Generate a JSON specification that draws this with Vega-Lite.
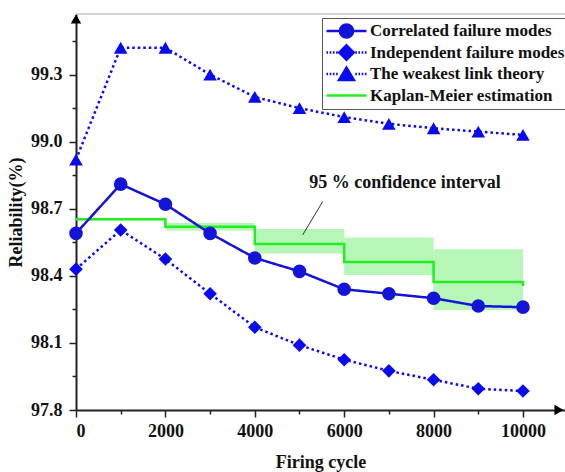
{
  "$schema": "https://vega.github.io/schema/vega-lite/v6.json",
  "width": 489,
  "height": 396,
  "autosize": {"type": "none"},
  "padding": {"left": 76, "top": 14, "right": 0, "bottom": 62},
  "background": "white",
  "config": {
    "view": {"stroke": null},
    "font": "Liberation Serif"
  },
  "datasets": {
    "models": [
      {"series": "Correlated failure modes", "cycle": 0, "r": 98.59},
      {"series": "Correlated failure modes", "cycle": 1000, "r": 98.81},
      {"series": "Correlated failure modes", "cycle": 2000, "r": 98.72},
      {"series": "Correlated failure modes", "cycle": 3000, "r": 98.59},
      {"series": "Correlated failure modes", "cycle": 4000, "r": 98.48},
      {"series": "Correlated failure modes", "cycle": 5000, "r": 98.42},
      {"series": "Correlated failure modes", "cycle": 6000, "r": 98.34},
      {"series": "Correlated failure modes", "cycle": 7000, "r": 98.32},
      {"series": "Correlated failure modes", "cycle": 8000, "r": 98.3},
      {"series": "Correlated failure modes", "cycle": 9000, "r": 98.265},
      {"series": "Correlated failure modes", "cycle": 10000, "r": 98.26},
      {"series": "Independent failure modes", "cycle": 0, "r": 98.43},
      {"series": "Independent failure modes", "cycle": 1000, "r": 98.605},
      {"series": "Independent failure modes", "cycle": 2000, "r": 98.475},
      {"series": "Independent failure modes", "cycle": 3000, "r": 98.32},
      {"series": "Independent failure modes", "cycle": 4000, "r": 98.17},
      {"series": "Independent failure modes", "cycle": 5000, "r": 98.09},
      {"series": "Independent failure modes", "cycle": 6000, "r": 98.025},
      {"series": "Independent failure modes", "cycle": 7000, "r": 97.975},
      {"series": "Independent failure modes", "cycle": 8000, "r": 97.935},
      {"series": "Independent failure modes", "cycle": 9000, "r": 97.895},
      {"series": "Independent failure modes", "cycle": 10000, "r": 97.885},
      {"series": "The weakest link theory", "cycle": 0, "r": 98.92},
      {"series": "The weakest link theory", "cycle": 1000, "r": 99.42},
      {"series": "The weakest link theory", "cycle": 2000, "r": 99.42},
      {"series": "The weakest link theory", "cycle": 3000, "r": 99.3},
      {"series": "The weakest link theory", "cycle": 4000, "r": 99.2},
      {"series": "The weakest link theory", "cycle": 5000, "r": 99.15},
      {"series": "The weakest link theory", "cycle": 6000, "r": 99.11},
      {"series": "The weakest link theory", "cycle": 7000, "r": 99.08},
      {"series": "The weakest link theory", "cycle": 8000, "r": 99.06},
      {"series": "The weakest link theory", "cycle": 9000, "r": 99.045},
      {"series": "The weakest link theory", "cycle": 10000, "r": 99.03}
    ],
    "km": [
      {"series": "Kaplan-Meier estimation", "cycle": 0, "r": 98.653},
      {"series": "Kaplan-Meier estimation", "cycle": 2000, "r": 98.62},
      {"series": "Kaplan-Meier estimation", "cycle": 4000, "r": 98.542},
      {"series": "Kaplan-Meier estimation", "cycle": 6000, "r": 98.462},
      {"series": "Kaplan-Meier estimation", "cycle": 8000, "r": 98.372},
      {"series": "Kaplan-Meier estimation", "cycle": 10000, "r": 98.355}
    ],
    "band": [
      {"cycle": 0, "cycle2": 2000, "r": 98.647, "hi": 98.658},
      {"cycle": 2000, "cycle2": 4000, "r": 98.603, "hi": 98.636},
      {"cycle": 4000, "cycle2": 6000, "r": 98.5, "hi": 98.61},
      {"cycle": 6000, "cycle2": 8000, "r": 98.404, "hi": 98.572},
      {"cycle": 8000, "cycle2": 10000, "r": 98.247, "hi": 98.519}
    ]
  },
  "encoding": {
    "x": {
      "field": "cycle",
      "type": "quantitative",
      "scale": {"domain": [0, 10940], "nice": false, "zero": false},
      "axis": {
        "values": [0, 1000, 2000, 3000, 4000, 5000, 6000, 7000, 8000, 9000, 10000],
        "labelExpr": "datum.value % 2000 === 0 ? format(datum.value, 'd') : ''",
        "tickSize": {"condition": {"test": "datum.value % 2000 !== 0", "value": 4}, "value": 7},
        "grid": false,
        "domainColor": "#222222",
        "domainWidth": 2,
        "tickColor": "#222222",
        "tickWidth": 1.5,
        "labelFont": "Liberation Serif",
        "labelFontWeight": "bold",
        "labelFontSize": 18,
        "labelColor": "#111111",
        "labelPadding": 5,
        "title": "Firing cycle",
        "titleFont": "Liberation Serif",
        "titleFontWeight": "bold",
        "titleFontSize": 18,
        "titleColor": "#111111",
        "titlePadding": 13
      }
    },
    "y": {
      "field": "r",
      "type": "quantitative",
      "scale": {"domain": [97.8, 99.571], "nice": false, "zero": false},
      "axis": {
        "values": [97.8, 97.95, 98.1, 98.25, 98.4, 98.55, 98.7, 98.85, 99.0, 99.15, 99.3, 99.45],
        "labelExpr": "round(datum.value * 100) % 30 === 0 ? format(datum.value, '.1f') : ''",
        "tickSize": {"condition": {"test": "round(datum.value * 100) % 30 !== 0", "value": 4}, "value": 7},
        "grid": false,
        "domainColor": "#222222",
        "domainWidth": 2,
        "tickColor": "#222222",
        "tickWidth": 1.5,
        "labelFont": "Liberation Serif",
        "labelFontWeight": "bold",
        "labelFontSize": 18,
        "labelColor": "#111111",
        "labelPadding": 7,
        "title": "Reliability(%)",
        "titleFont": "Liberation Serif",
        "titleFontWeight": "bold",
        "titleFontSize": 18,
        "titleColor": "#111111",
        "titlePadding": 5
      }
    }
  },
  "layer": [
    {
      "data": {"values": [{"cycle": 0, "cycle2": 10940, "r": 99.571}]},
      "mark": {"type": "rule", "color": "#c8c8c8", "strokeWidth": 1.5},
      "encoding": {
        "x2": {"field": "cycle2"}
      }
    },
    {
      "data": {"name": "band"},
      "mark": {"type": "rect", "color": "#b2f5b2", "opacity": 0.95},
      "encoding": {
        "x2": {"field": "cycle2"},
        "y2": {"field": "hi"}
      }
    },
    {
      "data": {"name": "km"},
      "mark": {"type": "line", "interpolate": "step-after", "strokeWidth": 2.5},
      "encoding": {
        "color": {
          "field": "series",
          "type": "nominal",
          "scale": {
            "domain": ["Correlated failure modes", "Independent failure modes", "The weakest link theory", "Kaplan-Meier estimation"],
            "range": ["#1414d8", "#0a0aee", "#0a0aee", "#22ee22"]
          },
          "legend": {
            "title": null,
            "orient": "none",
            "legendX": 246,
            "legendY": 4,
            "direction": "vertical",
            "padding": 3,
            "strokeColor": "#555555",
            "fillColor": "white",
            "labelFont": "Liberation Serif",
            "labelFontWeight": "bold",
            "labelFontSize": 17,
            "labelColor": "#111111",
            "labelLimit": 300,
            "labelOffset": 2,
            "symbolSize": 1600,
            "clipHeight": 20,
            "rowPadding": 1.5,
            "encode": {
              "symbols": {
                "update": {
                  "shape": {"signal": "datum.value === 'Correlated failure modes' ? 'M-1,0H1M0.33,0A0.33,0.33,0,1,1,-0.33,0A0.33,0.33,0,1,1,0.33,0Z' : datum.value === 'Independent failure modes' ? 'M-1,0H-0.92M-0.84,0H-0.76M-0.68,0H-0.6M-0.52,0H-0.44M0.44,0H0.52M0.6,0H0.68M0.76,0H0.84M0.92,0H1M0,-0.36L0.36,0L0,0.36L-0.36,0Z' : datum.value === 'The weakest link theory' ? 'M-1,0H-0.92M-0.84,0H-0.76M-0.68,0H-0.6M-0.52,0H-0.44M0.44,0H0.52M0.6,0H0.68M0.76,0H0.84M0.92,0H1M0,-0.32L0.37,0.3L-0.37,0.3Z' : 'M-1,0H1'"},
                  "fill": {"signal": "datum.value === 'Kaplan-Meier estimation' ? 'transparent' : scale('color', datum.value)"},
                  "strokeWidth": {"value": 2.5},
                  "strokeDash": {"value": []},
                  "opacity": {"value": 1}
                }
              }
            }
          }
        }
      }
    },
    {
      "data": {"name": "models"},
      "mark": {"type": "line", "strokeWidth": 2.5},
      "encoding": {
        "color": {"field": "series", "type": "nominal"},
        "strokeDash": {
          "field": "series",
          "type": "nominal",
          "scale": {
            "domain": ["Correlated failure modes", "Independent failure modes", "The weakest link theory"],
            "range": [[1, 0], [2.5, 3], [2.5, 3]]
          },
          "legend": null
        }
      }
    },
    {
      "data": {"name": "models"},
      "mark": {"type": "point", "filled": true, "opacity": 1, "size": 185},
      "encoding": {
        "fill": {
          "field": "series",
          "type": "nominal",
          "scale": {
            "domain": ["Correlated failure modes", "Independent failure modes", "The weakest link theory"],
            "range": ["#1414d8", "#0a0aee", "#0a0aee"]
          },
          "legend": null
        },
        "shape": {
          "field": "series",
          "type": "nominal",
          "scale": {
            "domain": ["Correlated failure modes", "Independent failure modes", "The weakest link theory"],
            "range": ["circle", "diamond", "triangle-up"]
          },
          "legend": null
        }
      }
    },
    {
      "data": {"values": [{"cycle": 5519, "r": 98.732, "cycle2": 5072, "r2": 98.583}]},
      "mark": {"type": "rule", "color": "#333333", "strokeWidth": 1},
      "encoding": {
        "x2": {"field": "cycle2"},
        "y2": {"field": "r2"}
      }
    },
    {
      "data": {"values": [{"cycle": 7360, "r": 98.815, "label": "95 % confidence interval"}]},
      "mark": {"type": "text", "font": "Liberation Serif", "fontWeight": "bold", "fontSize": 18, "color": "#111111", "align": "center", "baseline": "middle"},
      "encoding": {
        "text": {"field": "label"}
      }
    },
    {
      "data": {"values": [{"cycle": 0, "r": 99.549, "dir": "up"}, {"cycle": 10805, "r": 97.8, "dir": "right"}]},
      "mark": {"type": "point", "filled": true, "opacity": 1, "size": 110, "color": "#000000"},
      "encoding": {
        "shape": {
          "field": "dir",
          "type": "nominal",
          "scale": {"domain": ["up", "right"], "range": ["triangle-up", "triangle-right"]},
          "legend": null
        }
      }
    }
  ],
  "resolve": {"scale": {"shape": "independent", "fill": "independent"}}
}
